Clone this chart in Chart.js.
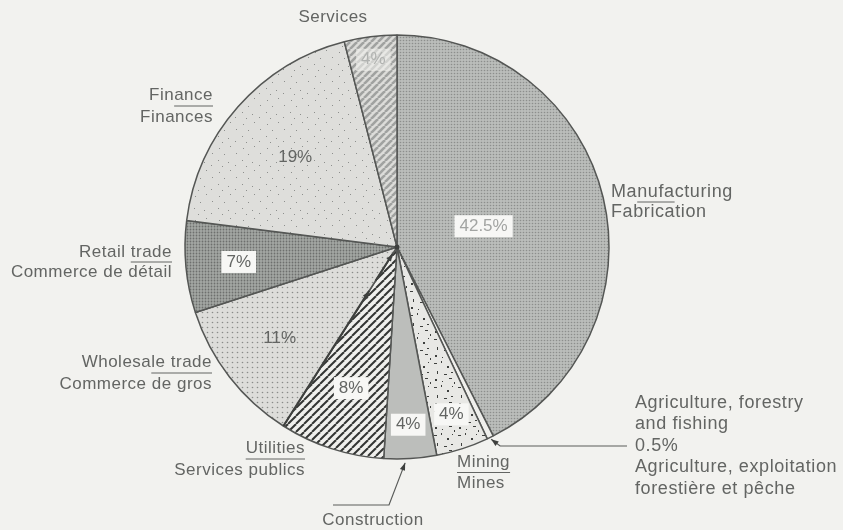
<!DOCTYPE html>
<html>
<head>
<meta charset="utf-8">
<script src="https://cdn.jsdelivr.net/npm/chart.js@4.4.0/dist/chart.umd.min.js"></script>
<style>
  html, body { margin: 0; padding: 0; background: #f2f2ef; }
  #wrap { width: 843px; height: 530px; }
</style>
</head>
<body>
<div id="wrap"><canvas id="pie" width="843" height="530"></canvas></div>
<script>
// sectors in drawing order, clockwise from 12 o'clock
const sectors = ["Manufacturing", "Agriculture, forestry and fishing", "Mining", "Construction",
  "Utilities", "Wholesale trade", "Retail trade", "Finance", "Services"];
const shares = [42.5, 0.5, 4, 4, 8, 11, 7, 19, 4];
const shareLabels = ["42.5%", "", "4%", "4%", "8%", "11%", "7%", "19%", "4%"];
const englishNames = [["Manufacturing"], ["Agriculture, forestry", "and fishing"], ["Mining"], ["Construction"],
  ["Utilities"], ["Wholesale trade"], ["Retail trade"], ["Finance"], ["Services"]];
const frenchNames = [["Fabrication"], ["Agriculture, exploitation", "forestière et pêche"], ["Mines"], [],
  ["Services publics"], ["Commerce de gros"], ["Commerce de détail"], ["Finances"], []];

const FACE = '"Liberation Sans", Arial, sans-serif';
const INK = "#636563";
const EDGE = "#545654";

function tile(size, draw) {
  const c = document.createElement("canvas");
  c.width = size; c.height = size;
  const g = c.getContext("2d");
  draw(g, size);
  return document.getElementById("pie").getContext("2d").createPattern(c, "repeat");
}
function screen(base, dot, step, r) {
  return tile(step, (g, s) => {
    g.fillStyle = base; g.fillRect(0, 0, s, s);
    g.fillStyle = dot; g.beginPath(); g.arc(s / 2, s / 2, r, 0, Math.PI * 2); g.fill();
  });
}
function stripes(base, ink, step, w) {
  return tile(step, (g, s) => {
    g.fillStyle = base; g.fillRect(0, 0, s, s);
    g.strokeStyle = ink; g.lineWidth = w;
    for (let k = -1; k <= 1; k++) {
      g.beginPath(); g.moveTo(k * s, s); g.lineTo(k * s + s, 0); g.stroke();
    }
  });
}
function specks(base, ink, pts) {
  return tile(24, (g, s) => {
    g.fillStyle = base; g.fillRect(0, 0, s, s);
    g.fillStyle = ink;
    pts.forEach(p => g.fillRect(p[0], p[1], p[2], p[3]));
  });
}

const fills = [
  screen("#babdba", "#8c8f8c", 3, 0.8),                 // manufacturing
  "#efefec",                                            // agriculture
  specks("#e8e8e5", "#3e403e", [[2, 3, 3, 1], [9, 1, 1, 2], [15, 6, 2, 2], [20, 2, 1, 1], [5, 11, 1, 3],
    [12, 14, 3, 1], [19, 12, 2, 1], [3, 19, 2, 2], [10, 21, 1, 1], [17, 18, 3, 1], [22, 22, 1, 2]]), // mining
  "#bcbebb",                                            // construction
  stripes("#f0f0ed", "#333533", 8, 2),                  // utilities
  screen("#dddddA", "#8a8c8a", 5, 0.8),                 // wholesale
  screen("#a4a7a4", "#6d706d", 3, 0.9),                 // retail
  specks("#dedeDB", "#8d8f8d", [[3, 4, 1, 1], [14, 2, 1, 1], [8, 10, 1, 1], [20, 9, 1, 1], [2, 16, 1, 1],
    [12, 18, 1, 1], [19, 21, 1, 1], [6, 22, 1, 1]]),    // finance
  stripes("#dcdcd9", "#a0a2a0", 7, 2.6)                 // services
];

// radial position of the percentage labels (fraction of radius) and whether they sit in a box
const labelRadius = [0.42, 0, 0.83, 0.84, 0.70, 0.70, 0.75, 0.64, 0.89];
const labelBoxed = [true, false, true, true, true, false, true, false, true];

function arrow(ctx, pts) {
  ctx.beginPath();
  ctx.moveTo(pts[0][0], pts[0][1]);
  pts.slice(1).forEach(p => ctx.lineTo(p[0], p[1]));
  ctx.stroke();
  const [a, b] = pts.slice(-2);
  const ang = Math.atan2(b[1] - a[1], b[0] - a[0]);
  ctx.beginPath();
  ctx.moveTo(b[0], b[1]);
  ctx.lineTo(b[0] - 8 * Math.cos(ang - 0.35), b[1] - 8 * Math.sin(ang - 0.35));
  ctx.lineTo(b[0] - 8 * Math.cos(ang + 0.35), b[1] - 8 * Math.sin(ang + 0.35));
  ctx.closePath();
  ctx.fill();
}

function edgePoint(arc, frac, extra) {
  const p = arc.getProps(["x", "y", "startAngle", "endAngle", "outerRadius"], true);
  const a = p.startAngle + (p.endAngle - p.startAngle) * frac;
  const r = p.outerRadius + extra;
  return [p.x + Math.cos(a) * r, p.y + Math.sin(a) * r];
}

const labelPlugin = {
  id: "labels",
  afterDatasetsDraw(chart) {
    const ctx = chart.ctx;
    const arcs = chart.getDatasetMeta(0).data;
    ctx.save();
    ctx.textBaseline = "middle";

    // heavier boundary between wholesale and utilities, with its two arrowheads
    const c = arcs[0].getProps(["x", "y"], true);
    const u = arcs[4].getProps(["endAngle", "outerRadius"], true);
    ctx.strokeStyle = "#3e403e";
    ctx.fillStyle = "#3e403e";
    ctx.lineWidth = 2;
    const far = [c.x + Math.cos(u.endAngle) * u.outerRadius, c.y + Math.sin(u.endAngle) * u.outerRadius];
    arrow(ctx, [far, [c.x + Math.cos(u.endAngle) * 52, c.y + Math.sin(u.endAngle) * 52]]);
    arrow(ctx, [[c.x + Math.cos(u.endAngle) * 40, c.y + Math.sin(u.endAngle) * 40],
      [c.x + Math.cos(u.endAngle) * 8, c.y + Math.sin(u.endAngle) * 8]]);
    ctx.beginPath(); ctx.arc(c.x, c.y, 2.5, 0, Math.PI * 2); ctx.fill();

    // percentages inside the slices
    ctx.font = "17px " + FACE;
    arcs.forEach((arc, i) => {
      const t = shareLabels[i];
      if (!t) return;
      const p = arc.getProps(["x", "y", "startAngle", "endAngle", "outerRadius"], true);
      const mid = (p.startAngle + p.endAngle) / 2;
      const r = p.outerRadius * labelRadius[i];
      const x = p.x + Math.cos(mid) * r, y = p.y + Math.sin(mid) * r;
      const w = ctx.measureText(t).width;
      if (labelBoxed[i]) {
        ctx.fillStyle = i === 8 ? "rgba(240,240,237,0.6)" : "#f7f7f5";
        ctx.fillRect(x - w / 2 - 5, y - 11, w + 10, 22);
      }
      ctx.fillStyle = i === 0 ? "#a2a4a2" : (i === 8 ? "#b0b2b0" : INK);
      ctx.textAlign = "center";
      ctx.fillText(t, x, y);
    });

    // outside names: [align, x, y of first line, line step, underline start char, underline end char, font size]
    const place = [
      ["left", 611, 192, 20, 2, 6, 18],
      ["left", 635, 403, 21.5, -1, 0, 18],
      ["left", 457, 462, 21, 0, 6, 17],
      ["center", 373, 520, 20, -1, 0, 17],
      ["right", 305, 448, 22, 0, 9, 17],
      ["right", 212, 362, 22, 7, 15, 17],
      ["right", 172, 252, 20, 7, 12, 17],
      ["right", 213, 95, 22, 3, 7, 17],
      ["center", 333, 17, 20, -1, 0, 17]
    ];
    ctx.fillStyle = INK;
    ctx.strokeStyle = INK;
    place.forEach((pl, i) => {
      const [align, x, y0, step, ul, ue, size] = pl;
      ctx.font = size + "px " + FACE;
      ctx.letterSpacing = size > 17 ? "0.6px" : "0.5px";
      let lines = englishNames[i].slice();
      if (i === 1) lines.push(shares[1] + "%");
      lines = lines.concat(frenchNames[i]);
      ctx.textAlign = align;
      lines.forEach((ln, k) => ctx.fillText(ln, x, y0 + k * step));
      if (ul >= 0) {
        const eng = englishNames[i][0];
        const full = ctx.measureText(eng).width;
        const left = align === "left" ? x : (align === "right" ? x - full : x - full / 2);
        const x1 = left + ctx.measureText(eng.slice(0, ul)).width;
        const x2 = left + ctx.measureText(eng.slice(0, ue)).width;
        const uy = y0 + step / 2;
        ctx.lineWidth = 1;
        ctx.beginPath(); ctx.moveTo(x1, uy); ctx.lineTo(x2, uy); ctx.stroke();
      }
    });
    ctx.letterSpacing = "0px";

    // leader lines
    ctx.lineWidth = 1.2;
    ctx.fillStyle = "#3e403e";
    ctx.strokeStyle = "#5a5c5a";
    const agri = edgePoint(arcs[1], 0.5, 2);
    arrow(ctx, [[627, 446], [agri[0] + 9, 446], agri]);
    const cons = edgePoint(arcs[3], 0.6, 4);
    arrow(ctx, [[333, 505], [389, 505], cons]);
    ctx.restore();
  }
};

new Chart(document.getElementById("pie"), {
  type: "pie",
  data: {
    labels: sectors,
    datasets: [{
      data: shares,
      backgroundColor: fills,
      borderColor: EDGE,
      borderWidth: 1.5
    }]
  },
  options: {
    responsive: false,
    animation: false,
    radius: 212,
    layout: { padding: { left: 185, right: 234, top: 35, bottom: 71 } },
    plugins: {
      legend: { display: false },
      tooltip: { enabled: false }
    }
  },
  plugins: [labelPlugin]
});
</script>
</body>
</html>
